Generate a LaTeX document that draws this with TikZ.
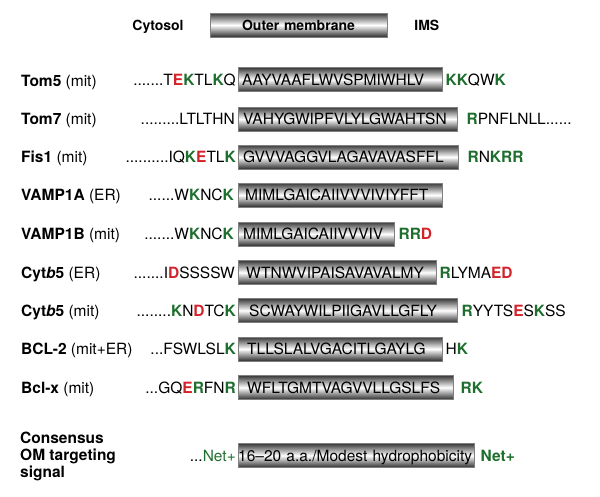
\documentclass[tikz,border=0pt]{standalone}
\usepackage{fontspec}
\setmainfont{TeX Gyre Heros}
\usepackage{xcolor}
\usepackage{tikz}
\usetikzlibrary{
  positioning
}
\definecolor{omGreen}{HTML}{1E6E2E}
\definecolor{omRed}{HTML}{D2232A}
\newcommand{\basres}[1]{\textcolor{omGreen}{\bfseries #1}}
\newcommand{\acres}[1]{\textcolor{omRed}{\bfseries #1}}
\tikzset{
  txt/.style={inner sep=0pt, text height=11.1pt, text depth=0pt,
    font=\fontsize{15.5}{17}\selectfont},
  protname/.style={txt, anchor=west},
  cyto/.style={txt},
  ims/.style={txt},
  tmd/.style={txt, draw=black!50, top color=black!78, bottom color=black!82,
    middle color=white, anchor=west, minimum height=24pt,
    text width=#1, align=left},
  hdr/.style={inner sep=0pt, text height=10pt, text depth=0pt,
    font=\fontsize{14}{15}\selectfont\bfseries},
  hdrbar/.style={hdr, draw=black!50, top color=black!78, bottom color=black!82,
    middle color=white, minimum height=24pt, text width=177pt, align=center}
}

\begin{document}
\begin{tikzpicture}[x=1pt, y=-1pt]
  \useasboundingbox (0,0) rectangle (600,496);
  % header
  \node[hdrbar] (om) at (298.5,25) {Outer membrane};
  \node[hdr, left=26pt of om] (cyt) {Cytosol};
  \node[hdr, right=27pt of om] (imsh) {IMS};
  % Tom5
  \node[protname] (nTom5) at (21,80.5) {\textbf{Tom5} (mit)};
  \node[tmd=204pt] (mTom5) at (238,79.5) {\hspace*{4pt}AAYVAAFLWVSPMIWHLV};
  \node[cyto, left=2pt of mTom5] (cTom5) {.......T\acres{E}\basres{K}TL\basres{K}Q};
  \node[ims, right=3pt of mTom5] (iTom5) {\basres{KK}QW\basres{K}};
  % Tom7
  \node[protname] (nTom7) at (21,119) {\textbf{Tom7} (mit)};
  \node[tmd=219pt] (mTom7) at (238,119) {\hspace*{5pt}VAHYGWIPFVLYLGWAHTSN};
  \node[cyto, left=3pt of mTom7] (cTom7) {.........LTLTHN};
  \node[ims, right=9pt of mTom7] (iTom7) {\basres{R}PNFLNLL......};
  % Fis1
  \node[protname] (nFis1) at (21,157) {\textbf{Fis1} (mit)};
  \node[tmd=220pt] (mFis1) at (238,157) {\hspace*{5pt}GVVVAGGVLAGAVAVASFFL};
  \node[cyto, left=2pt of mFis1] (cFis1) {..........IQ\basres{K}\acres{E}TL\basres{K}};
  \node[ims, right=9pt of mFis1] (iFis1) {\basres{R}N\basres{KRR}};
  % VAMP1A
  \node[protname] (nV1A) at (21,195) {\textbf{VAMP1A} (ER)};
  \node[tmd=204pt] (mV1A) at (238,195) {\hspace*{7pt}MIMLGAICAIIVVVIVIYFFT};
  \node[cyto, left=4pt of mV1A] (cV1A) {......W\basres{K}NC\basres{K}};
  % VAMP1B
  \node[protname] (nV1B) at (21,234) {\textbf{VAMP1B} (mit)};
  \node[tmd=156pt] (mV1B) at (238,234) {\hspace*{5pt}MIMLGAICAIIVVVIV};
  \node[cyto, left=4pt of mV1B] (cV1B) {.......W\basres{K}NC\basres{K}};
  \node[ims, right=4pt of mV1B] (iV1B) {\basres{RR}\acres{D}};
  % Cyt b5 (ER)
  \node[protname] (nB5e) at (21,272.5) {\textbf{Cyt\textit{b}5} (ER)};
  \node[tmd=198pt] (mB5e) at (238,272.5) {\hspace*{8pt}WTNWVIPAISAVAVALMY};
  \node[cyto, left=3pt of mB5e] (cB5e) {.......I\acres{D}SSSSW};
  \node[ims, right=3pt of mB5e] (iB5e) {\basres{R}LYMA\acres{ED}};
  % Cyt b5 (mit)
  \node[protname] (nB5m) at (21,310.5) {\textbf{Cyt\textit{b}5} (mit)};
  \node[tmd=219pt] (mB5m) at (238,310.5) {\hspace*{11pt}SCWAYWILPIIGAVLLGFLY};
  \node[cyto, left=2pt of mB5m] (cB5m) {........\basres{K}N\acres{D}TC\basres{K}};
  \node[ims, right=4pt of mB5m] (iB5m) {\basres{R}YYTS\acres{E}S\basres{K}SS};
  % BCL-2
  \node[protname] (nBcl2) at (21,349) {\textbf{BCL-2} (mit+ER)};
  \node[tmd=204pt] (mBcl2) at (238,349) {\hspace*{9pt}TLLSLALVGACITLGAYLG};
  \node[cyto, left=2pt of mBcl2] (cBcl2) {...FSWLSL\basres{K}};
  \node[ims, right=3pt of mBcl2] (iBcl2) {H\basres{K}};
  % Bcl-x
  \node[protname] (nBclx) at (21,387.5) {\textbf{Bcl-x} (mit)};
  \node[tmd=215pt] (mBclx) at (238,387.5) {\hspace*{9pt}WFLTGMTVAGVVLLGSLFS};
  \node[cyto, left=2pt of mBclx] (cBclx) {...GQ\acres{E}\basres{R}FN\basres{R}};
  \node[ims, right=7pt of mBclx] (iBclx) {\basres{RK}};
  % consensus
  \node[anchor=west, inner sep=0pt, align=left,
    font=\fontsize{15.5}{17}\selectfont\bfseries] (nCons) at (20,456.5)
    {Consensus\\OM targeting\\signal};
  \node[tmd=236pt] (mCons) at (238,455.5) {\mbox{16--20 a.a./Modest hydrophobicity}};
  \node[cyto, left=2pt of mCons] (cCons) {...\textcolor{omGreen}{Net+}};
  \node[ims, right=6pt of mCons] (iCons) {\basres{Net+}};
\end{tikzpicture}
\end{document}
